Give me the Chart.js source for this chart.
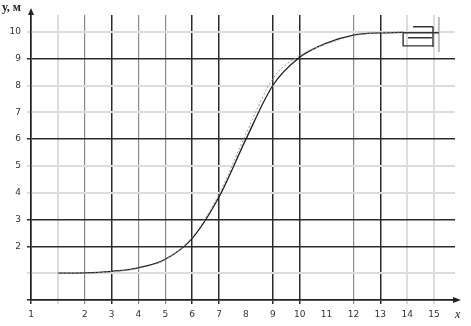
<!DOCTYPE html>
<html>
<head>
<meta charset="utf-8">
<script src="https://cdn.jsdelivr.net/npm/chart.js@4/dist/chart.umd.min.js"></script>
<style>
html,body{margin:0;padding:0;background:#fff;}
#wrap{width:471px;height:326px;position:relative;}
</style>
</head>
<body>
<div id="wrap"><canvas id="c" width="471" height="326"></canvas></div>
<script>
// ---- data ----
const xTickValues = [0,1,2,3,4,5,6,7,8,9,10,11,12,13,14,15];
const xTickLabels = ['1','','2','3','4','5','6','7','8','9','10','11','12','13','14','15'];
const yTickValues = [0,1,2,3,4,5,6,7,8,9,10];
const yTickLabels = ['','','2','3','4','5','6','7','8','9','10'];

const solidX = [1, 2, 3, 4, 5, 6, 7, 8, 9, 10, 11, 12, 13, 13.85];
const solidY = [1.0, 1.01, 1.07, 1.2, 1.52, 2.3, 3.85, 6.0, 8.0, 9.05, 9.58, 9.88, 9.96, 9.98];

const dottedX = [1, 2, 3, 4, 5, 6, 7, 8, 9, 10, 11, 12, 13, 13.85];
const dottedY = [1.0, 1.0, 1.05, 1.18, 1.5, 2.35, 3.95, 6.2, 8.25, 9.12, 9.55, 9.85, 9.97, 10.0];

// bracket-like mark at the end of the curve (segments separated by null)
const markX = [13.85, 15.18, null, 14.22, 14.96, null, 13.85, 13.85, 14.96, null, 14.03, 14.92, null, 14.96, 14.96];
const markY = [9.97, 9.97, null, 10.19, 10.19, null, 9.97, 9.48, 9.48, null, 9.78, 9.78, null, 10.19, 9.44];
const markGrayX = [15.18, 15.18];
const markGrayY = [10.56, 9.25];

// ---- grid styles per tick value ----
const xGridStyle = ['d','l','g','d','g','g','d','d','','d','d','','g','d','l','l'];
const yGridStyle = ['d','l','d','d','l','l','d','l','l','d','l'];
const STY = {
  d:{c:'#2a2a2a', w:1.5},
  g:{c:'#8a8a8a', w:1.2},
  l:{c:'#dcdcdc', w:2},
  '':{c:'rgba(0,0,0,0)', w:1}
};

function pts(xs, ys){ return xs.map((x,i)=> (x===null ? {x:null,y:null} : {x:x, y:ys[i]})); }

const extras = {
  id:'extras',
  afterDraw(chart){
    const ctx = chart.ctx;
    const a = chart.chartArea;
    ctx.save();
    ctx.strokeStyle = '#222';
    ctx.fillStyle = '#222';
    ctx.lineWidth = 1.5;
    // y axis extension & arrow
    ctx.beginPath(); ctx.moveTo(a.left, a.top); ctx.lineTo(a.left, 10); ctx.stroke();
    ctx.beginPath(); ctx.moveTo(a.left, 8); ctx.lineTo(a.left-3, 15); ctx.lineTo(a.left+3, 15); ctx.closePath(); ctx.fill();
    // x axis arrow
    ctx.beginPath(); ctx.moveTo(a.right+6, a.bottom); ctx.lineTo(a.right-2, a.bottom-3); ctx.lineTo(a.right-2, a.bottom+3); ctx.closePath(); ctx.fill();
    ctx.beginPath(); ctx.moveTo(a.right-4, a.bottom); ctx.lineTo(a.right+2, a.bottom); ctx.stroke();
    // axis titles
    ctx.font = 'bold 12px "Liberation Serif"';
    ctx.textAlign = 'left';
    ctx.textBaseline = 'alphabetic';
    ctx.fillStyle = '#222';
    ctx.fillText('у, м', 2, 11);
    ctx.font = 'italic 12px "Liberation Serif"';
    ctx.fillText('x', 455, 318);
    ctx.restore();
  }
};

new Chart(document.getElementById('c'), {
  type: 'line',
  data: {
    datasets: [
      {
        data: pts(dottedX, dottedY),
        borderColor: '#9a9a9a', borderWidth: 1, borderDash: [2,2],
        pointRadius: 0, cubicInterpolationMode: 'monotone', fill:false
      },
      {
        data: pts(solidX, solidY),
        borderColor: '#1e1e1e', borderWidth: 1.3,
        pointRadius: 0, cubicInterpolationMode: 'monotone', fill:false
      },
      {
        data: pts(markX, markY),
        borderColor: '#333', borderWidth: 1.4,
        pointRadius: 0, tension: 0, spanGaps: false, fill:false
      },
      {
        data: pts(markGrayX, markGrayY),
        borderColor: '#bdbdbd', borderWidth: 2,
        pointRadius: 0, tension: 0, fill:false
      }
    ]
  },
  options: {
    responsive: false,
    animation: false,
    parsing: true,
    layout: { padding: { top: 15, right: 16, left: 0, bottom: 0 } },
    plugins: { legend: { display: false }, tooltip: { enabled: false }, title: { display:false } },
    scales: {
      x: {
        type: 'linear', min: 0, max: 15.78,
        afterBuildTicks(s){ s.ticks = xTickValues.map(v=>({value:v})); },
        afterFit(s){ s.height = 26; },
        border: { display: true, color: '#222', width: 1.5 },
        grid: {
          drawOnChartArea: true, drawTicks: true, tickLength: 4,
          color: c => STY[xGridStyle[c.tick ? c.tick.value : 0] ?? ''].c,
          lineWidth: c => STY[xGridStyle[c.tick ? c.tick.value : 0] ?? ''].w
        },
        ticks: {
          autoSkip: false, maxRotation: 0, padding: 5,
          color: '#333', font: { family: 'DejaVu Sans', size: 9 },
          callback: (v) => { const i = xTickValues.indexOf(v); return i >= 0 ? xTickLabels[i] : ''; }
        }
      },
      y: {
        type: 'linear', min: 0, max: 10.63,
        afterBuildTicks(s){ s.ticks = yTickValues.map(v=>({value:v})); },
        afterFit(s){ s.width = 31; },
        border: { display: true, color: '#222', width: 1.5 },
        grid: {
          drawOnChartArea: true, drawTicks: true, tickLength: 4,
          color: c => STY[yGridStyle[c.tick ? c.tick.value : 0] ?? ''].c,
          lineWidth: c => STY[yGridStyle[c.tick ? c.tick.value : 0] ?? ''].w
        },
        ticks: {
          autoSkip: false, padding: 6,
          color: '#333', font: { family: 'DejaVu Sans', size: 9 },
          callback: (v) => { const i = yTickValues.indexOf(v); return i >= 0 ? yTickLabels[i] : ''; }
        }
      }
    }
  },
  plugins: [extras]
});
</script>
</body>
</html>
